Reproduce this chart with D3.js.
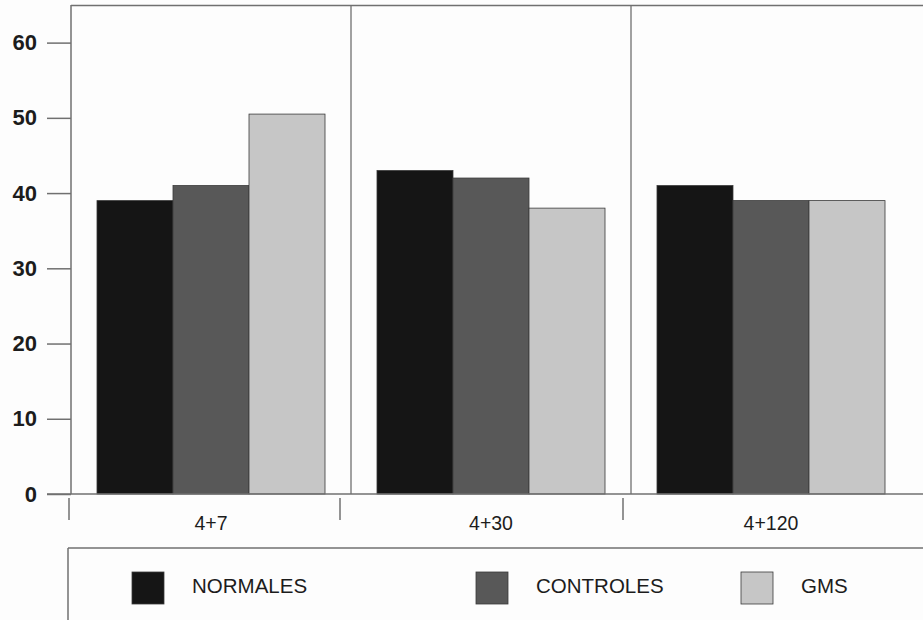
<!DOCTYPE html>
<html>
<head>
<meta charset="utf-8">
<script src="https://cdn.jsdelivr.net/npm/d3@7"></script>
<style>
  html, body { margin: 0; padding: 0; background: #fdfdfd; }
  svg { display: block; }
</style>
</head>
<body>
<svg id="chart" width="923" height="620"></svg>
<script>
// Periods and groups
const periods = ["4+7", "4+30", "4+120"];
const groups = ["NORMALES", "CONTROLES", "GMS"];

// Values per group, one entry per period
const normales = [39, 43, 41];
const controles = [41, 42, 39];
const gms = [50.5, 38, 39];

// Y axis ticks
const yTicks = [0, 10, 20, 30, 40, 50, 60];

const seriesValues = [normales, controles, gms];
const fills = ["#151515", "#585858", "#c6c6c6"];
const lineColor = "#707070";
const textColor = "#1c1c1c";

const svg = d3.select("#chart");

const plotLeft = 71, plotRight = 911, plotTop = 5, base = 494;

const x0 = d3.scaleBand().domain(periods).range([plotLeft, plotRight]).paddingInner(0).paddingOuter(0);
const x1 = d3.scaleBand().domain(groups).range([0, x0.bandwidth()]).paddingOuter(0.342).paddingInner(0);
const y = d3.scaleLinear().domain([0, 65]).range([base, plotTop]);

// Frame: top edge and dividers between periods
svg.append("line")
  .attr("x1", plotLeft).attr("x2", 923).attr("y1", plotTop + 0.5).attr("y2", plotTop + 0.5)
  .attr("stroke", lineColor).attr("stroke-width", 1.5);

svg.selectAll("line.divider")
  .data(periods.slice(1))
  .join("line")
  .attr("class", "divider")
  .attr("x1", d => x0(d)).attr("x2", d => x0(d))
  .attr("y1", plotTop).attr("y2", base)
  .attr("stroke", lineColor).attr("stroke-width", 1.3);

// Bars
const rows = periods.map((p, i) => ({ period: p, values: groups.map((g, j) => ({ group: g, value: seriesValues[j][i], idx: j })) }));

svg.append("g")
  .selectAll("g")
  .data(rows)
  .join("g")
  .attr("transform", d => `translate(${x0(d.period)},0)`)
  .selectAll("rect")
  .data(d => d.values)
  .join("rect")
  .attr("x", d => x1(d.group))
  .attr("width", x1.bandwidth())
  .attr("y", d => y(d.value))
  .attr("height", d => base - y(d.value))
  .attr("fill", d => fills[d.idx])
  .attr("stroke", "#3a3a3a")
  .attr("stroke-width", 0.8);

// Baseline
svg.append("line")
  .attr("x1", 47).attr("x2", 923).attr("y1", base).attr("y2", base)
  .attr("stroke", lineColor).attr("stroke-width", 1.5);

// Y axis
const yAxis = d3.axisLeft(y).tickValues(yTicks).tickSize(24).tickPadding(10);
const gy = svg.append("g").attr("transform", `translate(${plotLeft},0)`).call(yAxis);
gy.select(".domain").remove();
gy.append("line").attr("x1", 0).attr("x2", 0).attr("y1", plotTop).attr("y2", base)
  .attr("stroke", lineColor).attr("stroke-width", 1.5);
gy.selectAll(".tick line").attr("stroke", lineColor).attr("stroke-width", 1.5);
gy.selectAll(".tick text")
  .attr("fill", textColor)
  .style("font-family", "'Liberation Sans', Arial, sans-serif")
  .style("font-weight", "bold")
  .style("font-size", "22px");

// Category axis below the chart
const tickShift = [2, 11, 8];
const catTicks = svg.append("g");
catTicks.selectAll("line")
  .data(periods)
  .join("line")
  .attr("x1", (d, i) => x0(d) - tickShift[i])
  .attr("x2", (d, i) => x0(d) - tickShift[i])
  .attr("y1", 498).attr("y2", 520)
  .attr("stroke", lineColor).attr("stroke-width", 1.5);
catTicks.selectAll("text")
  .data(periods)
  .join("text")
  .attr("x", d => x0(d) + x0.bandwidth() / 2)
  .attr("y", 530)
  .attr("text-anchor", "middle")
  .attr("fill", textColor)
  .style("font-family", "'Liberation Sans', Arial, sans-serif")
  .style("font-size", "19.5px")
  .text(d => d);

// Legend
const legend = svg.append("g");
legend.append("line").attr("x1", 68).attr("x2", 923).attr("y1", 548).attr("y2", 548)
  .attr("stroke", lineColor).attr("stroke-width", 1.5);
legend.append("line").attr("x1", 68).attr("x2", 68).attr("y1", 548).attr("y2", 620)
  .attr("stroke", lineColor).attr("stroke-width", 1.5);

const legendX = [132, 476, 741];
const item = legend.selectAll("g.item")
  .data(groups)
  .join("g")
  .attr("class", "item")
  .attr("transform", (d, i) => `translate(${legendX[i]},572)`);
item.append("rect")
  .attr("width", 32).attr("height", 32)
  .attr("fill", (d, i) => fills[i])
  .attr("stroke", "#3a3a3a").attr("stroke-width", 0.8);
item.append("text")
  .attr("x", 60).attr("y", 21)
  .attr("fill", textColor)
  .style("font-family", "'Liberation Sans', Arial, sans-serif")
  .style("font-size", "20.5px")
  .text(d => d);
</script>
</body>
</html>
